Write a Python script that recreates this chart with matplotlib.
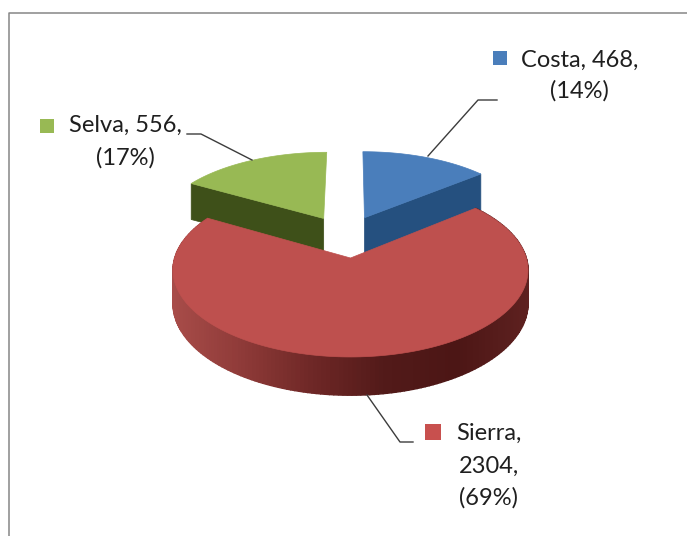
import numpy as np
import matplotlib
matplotlib.use('Agg')
import matplotlib.pyplot as plt
from matplotlib.colors import LinearSegmentedColormap

names = ['Costa', 'Sierra', 'Selva']
values = [468, 2304, 556]
percents = ['(14%)', '(69%)', '(17%)']

top_colors = ['#4A7EBB', '#BE504E', '#98B954']
side_colors = ['#25507F', None, '#3E5019']
marker_colors = ['#4A7EBB', '#C8504E', '#98B954']
sierra_side = LinearSegmentedColormap.from_list(
    'sierra', ['#A84C49', '#8E3A38', '#6E2726', '#521A19', '#4C1615', '#5E2120'])

# perspective of the disc, in pixels of the picture
center_x, center_y = 350.5, 258
scale_x, scale_y, tilt = 175.8, 85.3, 0.138
# how far each slice is pulled out, in disc units, and its height
explode = [(0.085, 0.505), (0, 0), (-0.163, 0.495)]
heights = [36, 33, 36]


def project(x, y):
    w = 1 + tilt * y
    return center_x + scale_x * x / w, center_y - scale_y * y / w, w


def slice_outline(start, end, shift):
    t = np.radians(np.linspace(start, end, 200))
    return project(shift[0] + np.sin(t), shift[1] + np.cos(t))


def draw_flat_slice(ax, start, end, shift, height, top, side, corner):
    ax_x, ax_y, _ = project(shift[0], shift[1])
    xs, ys, _ = slice_outline(start, end, shift)
    # the cut face that looks at the viewer
    ax.fill([ax_x, xs[corner], xs[corner], ax_x],
            [ax_y, ys[corner], ys[corner] + height, ax_y + height],
            color=side, lw=0.5, zorder=2)
    ax.fill(np.r_[ax_x, xs], np.r_[ax_y, ys], color=top, lw=0.5, zorder=3)


def draw_sierra(ax, start, end, height, top):
    xs, ys, ws = slice_outline(start, end, (0, 0))
    low = ys + height / ws
    for i in range(len(xs) - 1):
        color = sierra_side((xs[i] - 173) / 355)
        ax.fill([xs[i], xs[i + 1], xs[i + 1], xs[i]],
                [ys[i], ys[i + 1], low[i + 1], low[i]],
                color=color, lw=1, zorder=4)
    ax_x, ax_y, _ = project(0, 0)
    ax.fill(np.r_[ax_x, xs], np.r_[ax_y, ys], color=top, lw=0.5, zorder=5)


fig = plt.figure(figsize=(6.87, 5.36), dpi=100)
ax = fig.add_axes([0, 0, 1, 1])
ax.set_xlim(0, 687)
ax.set_ylim(536, 0)
ax.axis('off')

# frame of the chart, the picture is cut off at right and bottom
ax.plot([8.5, 8.5, 687], [536, 12.5, 12.5], color='#868686', lw=1.1, zorder=1)

angles = np.cumsum([0] + values) / sum(values) * 360

draw_flat_slice(ax, angles[0], angles[1], explode[0], heights[0],
                top_colors[0], side_colors[0], -1)
draw_flat_slice(ax, angles[2] - 360, angles[3] - 360, explode[2], heights[2],
                top_colors[2], side_colors[2], 0)
draw_sierra(ax, angles[1], angles[2], heights[1], top_colors[1])

# leader lines
line_color = '#3C3C3C'
ax.plot([497, 478, 428], [100, 100, 156], color=line_color, lw=1, zorder=6)
ax.plot([187, 201, 252], [134, 134, 160], color=line_color, lw=1, zorder=6)
ax.plot([367, 400, 413], [395, 442, 442], color=line_color, lw=1, zorder=6)

# labels
font = dict(family='Lato', fontsize=17, color='#1F1F1F', va='center', ha='center')
ax.text(580, 60, f'{names[0]}, {values[0]},', **font)
ax.text(579, 91, percents[0], **font)
ax.text(125, 125, f'{names[2]}, {values[2]},', **font)
ax.text(125, 158, percents[2], **font)
ax.text(489, 433, f'{names[1]},', **font)
ax.text(489, 466, f'{values[1]},', **font)
ax.text(489, 498, percents[1], **font)

ax.plot([499.5], [57.5], 's', ms=10.5, mew=0, color=marker_colors[0], zorder=6)
ax.plot([46.5], [125.5], 's', ms=10.5, mew=0, color=marker_colors[2], zorder=6)
ax.plot([433], [431.5], 's', ms=11, mew=0, color=marker_colors[1], zorder=6)

plt.savefig('out.png', dpi=100)
